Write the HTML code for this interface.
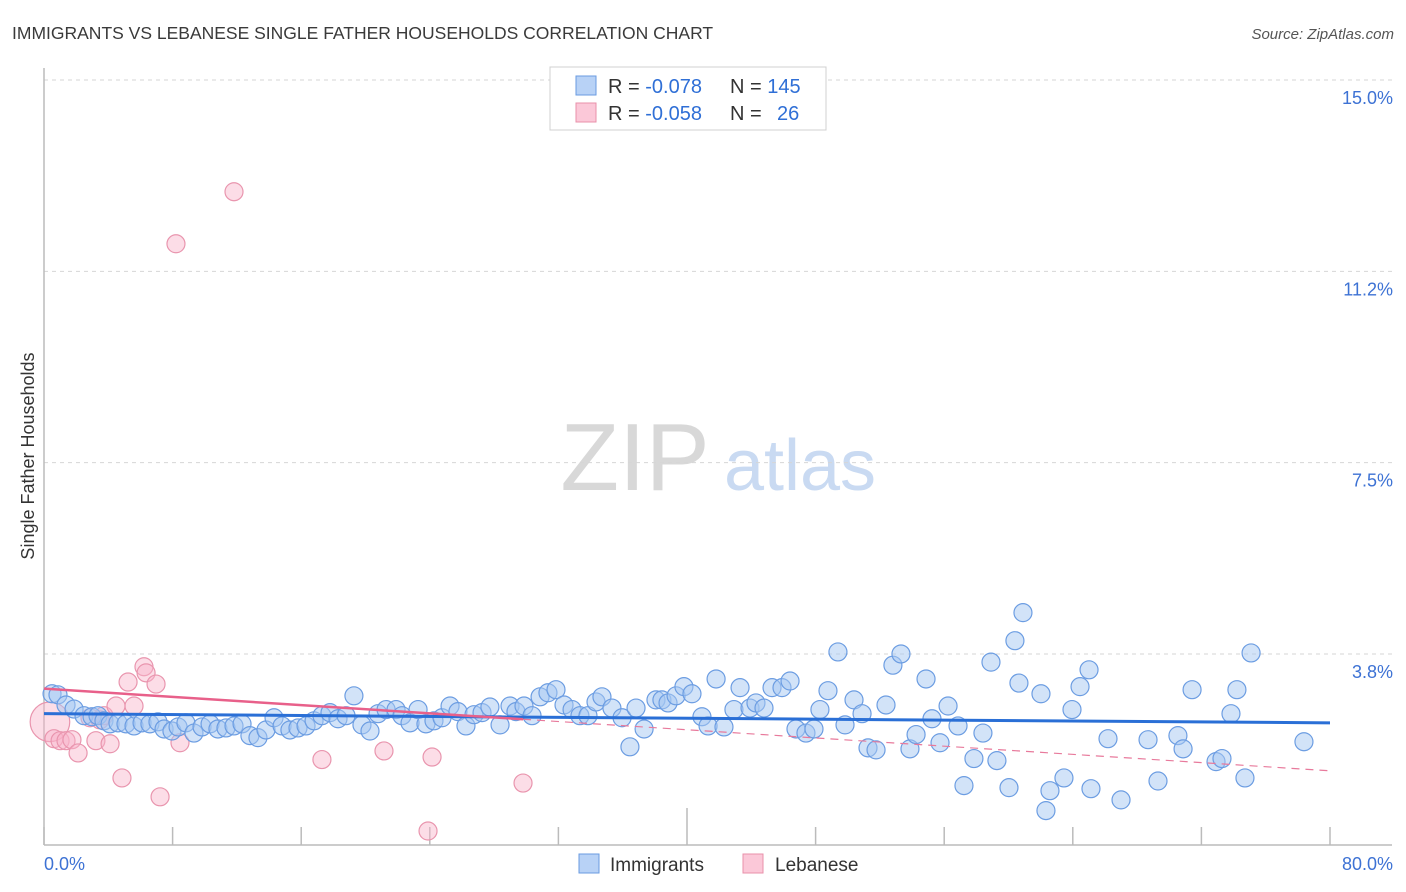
<!DOCTYPE html>
<html><head><meta charset="utf-8"><style>
body{margin:0;background:#fff;font-family:"Liberation Sans",sans-serif;}
#wrap{position:relative;width:1406px;height:892px;overflow:hidden}
svg text{font-family:"Liberation Sans",sans-serif}
</style></head><body><div id="wrap">
<svg id="chart" width="1406" height="892" xmlns="http://www.w3.org/2000/svg">
<text x="12" y="39" font-size="17.5" fill="#3a3a3a">IMMIGRANTS VS LEBANESE SINGLE FATHER HOUSEHOLDS CORRELATION CHART</text>
<text x="1394" y="39" font-size="15" fill="#555" font-style="italic" text-anchor="end">Source: ZipAtlas.com</text>
<g><text x="635" y="490" font-size="96" fill="#d8d8d8" font-family="Liberation Serif" text-anchor="middle">ZIP</text><text x="800" y="490" font-size="72" fill="#c9daf2" text-anchor="middle">atlas</text></g>
<g id="grid"></g><g id="axes"></g><g id="pts"></g><g id="lines"></g>
<text transform="translate(34,456) rotate(-90)" font-size="18" fill="#333" text-anchor="middle">Single Father Households</text>
<g>
<rect x="550" y="67" width="276" height="63" fill="#fff" stroke="#d0d0d0"/>
<rect x="576" y="76" width="20" height="19" fill="#b8d2f6" stroke="#6a9be0"/>
<rect x="576" y="103" width="20" height="19" fill="#fbc8d8" stroke="#e890aa"/>
<text x="608" y="93" font-size="20" fill="#333">R = <tspan fill="#2f6fd6">-0.078</tspan><tspan x="730">N = </tspan><tspan fill="#2f6fd6">145</tspan></text>
<text x="608" y="120" font-size="20" fill="#333">R = <tspan fill="#2f6fd6">-0.058</tspan><tspan x="730">N = </tspan><tspan x="777" fill="#2f6fd6">26</tspan></text>
</g>
<g>
<rect x="579" y="854" width="20" height="19" fill="#b8d2f6" stroke="#6a9be0"/>
<text x="610" y="871" font-size="19" fill="#333">Immigrants</text>
<rect x="743" y="854" width="20" height="19" fill="#fbc8d8" stroke="#e890aa"/>
<text x="775" y="871" font-size="19" fill="#333">Lebanese</text>
</g>
</svg></div>
<script>
const yTicks=[15,11.25,7.5,3.75];
const yTickLabels=["15.0%","11.2%","7.5%","3.8%"];
const xTickVals=[0,8,16,24,32,40,48,56,64,72,80];
const xEndLabels=["0.0%","80.0%"];
const blueX=[0.50,0.87,1.37,1.87,2.49,2.99,3.36,3.73,4.11,4.60,5.10,5.60,6.10,6.59,7.09,7.47,7.96,8.34,8.83,9.33,9.83,10.33,10.82,11.32,11.82,12.32,12.81,13.31,13.81,14.31,14.81,15.30,15.80,16.30,16.80,17.29,17.79,18.29,18.79,19.28,19.78,20.28,20.78,21.28,21.90,22.27,22.77,23.27,23.76,24.26,24.76,25.26,25.75,26.25,26.75,27.25,27.74,28.37,28.99,29.36,29.86,30.36,30.86,31.35,31.85,32.35,32.85,33.34,33.84,34.34,34.71,35.33,35.96,36.45,36.83,37.33,38.07,38.44,38.82,39.32,39.81,40.31,40.93,41.31,41.81,42.30,42.92,43.30,43.92,44.29,44.79,45.29,45.91,46.41,46.78,47.40,47.90,48.27,48.77,49.39,49.83,50.39,50.89,51.26,51.76,52.38,52.81,53.31,53.87,54.25,54.87,55.24,55.74,56.24,56.86,57.23,57.85,58.41,58.91,59.28,60.03,60.40,60.65,60.90,62.02,62.33,62.58,63.45,63.95,64.45,65.01,65.13,66.19,67.00,68.68,69.30,70.54,70.86,71.42,72.91,73.28,73.84,74.21,74.71,75.09,78.38];
const blueY=[2.97,2.95,2.75,2.67,2.54,2.52,2.54,2.44,2.38,2.40,2.38,2.34,2.40,2.38,2.42,2.28,2.24,2.32,2.40,2.20,2.32,2.38,2.28,2.30,2.34,2.38,2.15,2.11,2.26,2.50,2.34,2.26,2.30,2.34,2.44,2.54,2.60,2.48,2.54,2.93,2.36,2.24,2.58,2.66,2.66,2.54,2.40,2.66,2.38,2.44,2.50,2.73,2.62,2.34,2.56,2.60,2.71,2.36,2.73,2.62,2.73,2.54,2.91,2.99,3.05,2.75,2.66,2.54,2.54,2.81,2.91,2.69,2.50,1.93,2.69,2.28,2.85,2.85,2.79,2.93,3.11,2.97,2.52,2.34,3.26,2.32,2.66,3.09,2.69,2.79,2.69,3.09,3.09,3.22,2.28,2.20,2.28,2.66,3.03,3.79,2.36,2.85,2.58,1.91,1.87,2.75,3.53,3.75,1.89,2.17,3.26,2.48,2.01,2.73,2.34,1.17,1.70,2.20,3.59,1.66,1.13,4.01,3.18,4.56,2.97,0.68,1.07,1.32,2.66,3.11,3.44,1.11,2.09,0.89,2.07,1.26,2.15,1.89,3.05,1.64,1.70,2.58,3.05,1.32,3.77,2.03];
const pinkX=[0.37,0.62,1.0,1.37,1.74,2.12,2.86,3.23,3.48,3.73,4.11,4.48,4.85,5.23,5.60,6.22,6.35,6.97,7.22,8.46,8.21,11.82,17.29,21.15,23.89,24.14,29.80];
const pinkY=[2.42,2.09,2.05,2.05,2.07,1.81,2.50,2.05,2.46,2.54,1.99,2.73,1.32,3.20,2.73,3.50,3.38,3.16,0.95,2.01,11.79,12.81,1.68,1.85,0.28,1.73,1.22];
const pinkSize=[2.2,1,1,1,1,1,1,1,1,1,1,1,1,1,1,1,1,1,1,1,1,1,1,1,1,1,1];
const blueTrend=[2.58,2.40];
const pinkTrend=[3.07,1.46];
const pinkSolidEnd=29.8;
const NS="http://www.w3.org/2000/svg";
const X0=44,X1=1330,YB=845.3,PPU=51.02;
const sx=v=>X0+(X1-X0)*v/80;
const sy=v=>YB-v*PPU;
function mk(tag,attrs,parent){const e=document.createElementNS(NS,tag);for(const k in attrs)e.setAttribute(k,attrs[k]);parent.appendChild(e);return e;}
const grid=document.getElementById('grid'),axes=document.getElementById('axes'),pts=document.getElementById('pts'),lines=document.getElementById('lines');
yTicks.forEach((t,i)=>{
 const l=mk('line',{x1:X0,x2:1392,y1:sy(t),y2:sy(t),stroke:'#d6d6d6','stroke-dasharray':'4 4'},grid);
 
 
 const tx=mk('text',{x:1393,y:sy(t)+24,'font-size':18,fill:'#3d72d4','text-anchor':'end'},grid);
 tx.textContent=yTickLabels[i];
 
 
});
const ya=mk('line',{x1:X0,x2:X0,y1:68,y2:845,stroke:'#bbb','stroke-width':1.5},axes);


const xa=mk('line',{x1:X0,x2:1392,y1:845,y2:845,stroke:'#bbb','stroke-width':1.5},axes);


xTickVals.forEach((v,i)=>{
 const t=mk('line',{x1:sx(v),x2:sx(v),y1:(i==5?808:827),y2:845,stroke:'#bbb','stroke-width':1.5},axes);
 
 
});
const xl0=mk('text',{x:44,y:870,'font-size':18,fill:'#3d72d4'},axes);xl0.textContent=xEndLabels[0];


const xl1=mk('text',{x:1393,y:870,'font-size':18,fill:'#3d72d4','text-anchor':'end'},axes);xl1.textContent=xEndLabels[1];


pinkX.forEach((v,i)=>{
 const c=mk('circle',{cx:sx(v),cy:sy(pinkY[i]),r:9*pinkSize[i],fill:'rgba(248,180,202,0.45)',stroke:'#e995ae','stroke-width':1.2},pts);
 
 
});
blueX.forEach((v,i)=>{
 const c=mk('circle',{cx:sx(v),cy:sy(blueY[i]),r:9,fill:'rgba(165,199,242,0.5)',stroke:'#6c9de2','stroke-width':1.2},pts);
 
 
});
const pAt=x=>pinkTrend[0]+(pinkTrend[1]-pinkTrend[0])*x/80;
const pd=mk('line',{x1:sx(pinkSolidEnd),y1:sy(pAt(pinkSolidEnd)),x2:sx(80),y2:sy(pinkTrend[1]),stroke:'#e87a9c','stroke-width':1.2,'stroke-dasharray':'8 6'},lines);


const bt=mk('line',{x1:sx(0),y1:sy(blueTrend[0]),x2:sx(80),y2:sy(blueTrend[1]),stroke:'#2a6fd6','stroke-width':3},lines);


const ps=mk('line',{x1:sx(0),y1:sy(pinkTrend[0]),x2:sx(pinkSolidEnd),y2:sy(pAt(pinkSolidEnd)),stroke:'#e8608a','stroke-width':2.5},lines);


</script></body></html>
